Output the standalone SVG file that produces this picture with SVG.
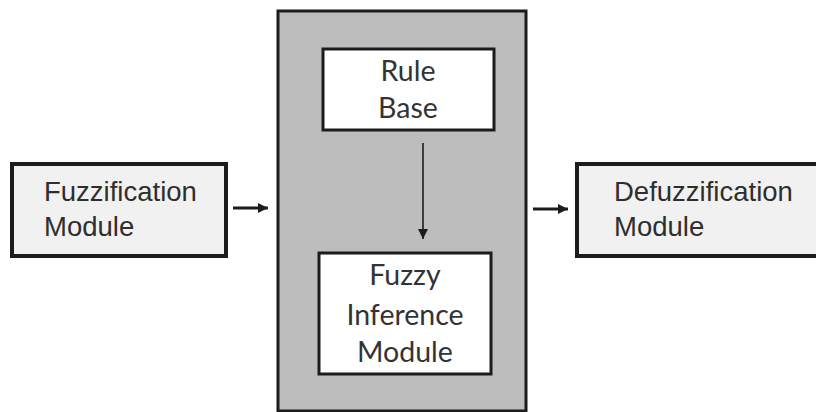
<svg xmlns="http://www.w3.org/2000/svg" width="816" height="412" viewBox="0 0 816 412">
  <style>
    .side { fill: #f1f1f1; stroke: #1c1c1c; stroke-width: 4; }
    .inner { fill: #ffffff; stroke: #1c1c1c; stroke-width: 3; }
    .core { fill: #bdbdbd; stroke: #1c1c1c; stroke-width: 3; }
    .lbl { font-family: "Liberation Sans", Arial, sans-serif; font-size: 27.5px; fill: #2e2e2e; }
    .lbl2 { font-family: Lato, "Liberation Sans", sans-serif; font-size: 28.5px; fill: #333333; text-anchor: middle; }
    .wire { stroke: #1c1c1c; fill: none; }
  </style>
  <defs>
    <marker id="head" viewBox="0 0 10 10" refX="10" refY="5" markerWidth="10" markerHeight="10" markerUnits="userSpaceOnUse" orient="auto">
      <path d="M0,0 L10,5 L0,10 z" fill="#1c1c1c"/>
    </marker>
  </defs>
  <rect width="816" height="412" fill="#ffffff"/>

  <!-- shaded inference engine housing -->
  <g id="inference-engine">
    <rect class="core" x="278" y="11" width="248" height="400"/>
  </g>

  <g id="fuzzification">
    <rect class="side" x="12" y="164" width="214" height="92"/>
    <text class="lbl" x="44" y="201">Fuzzification</text>
    <text class="lbl" x="44" y="236">Module</text>
  </g>

  <g id="rule-base">
    <rect class="inner" x="323" y="49" width="171" height="81"/>
    <text class="lbl2" x="408" y="81">Rule</text>
    <text class="lbl2" x="408" y="118">Base</text>
  </g>

  <g id="fuzzy-inference">
    <rect class="inner" x="319" y="253" width="172" height="121"/>
    <text class="lbl2" x="405" y="285">Fuzzy</text>
    <text class="lbl2" x="405" y="325">Inference</text>
    <text class="lbl2" x="405" y="362">Module</text>
  </g>

  <!-- output box runs off the right edge -->
  <g id="defuzzification">
    <rect class="side" x="577" y="164" width="245" height="92"/>
    <text class="lbl" x="614" y="201">Defuzzification</text>
    <text class="lbl" x="614" y="236">Module</text>
  </g>

  <g id="connectors">
    <line class="wire" x1="233" y1="208" x2="268" y2="208" stroke-width="3" marker-end="url(#head)"/>
    <line class="wire" x1="423" y1="143" x2="423" y2="239" stroke-width="1.6" marker-end="url(#head)"/>
    <line class="wire" x1="533" y1="209" x2="568" y2="209" stroke-width="3" marker-end="url(#head)"/>
  </g>
</svg>
